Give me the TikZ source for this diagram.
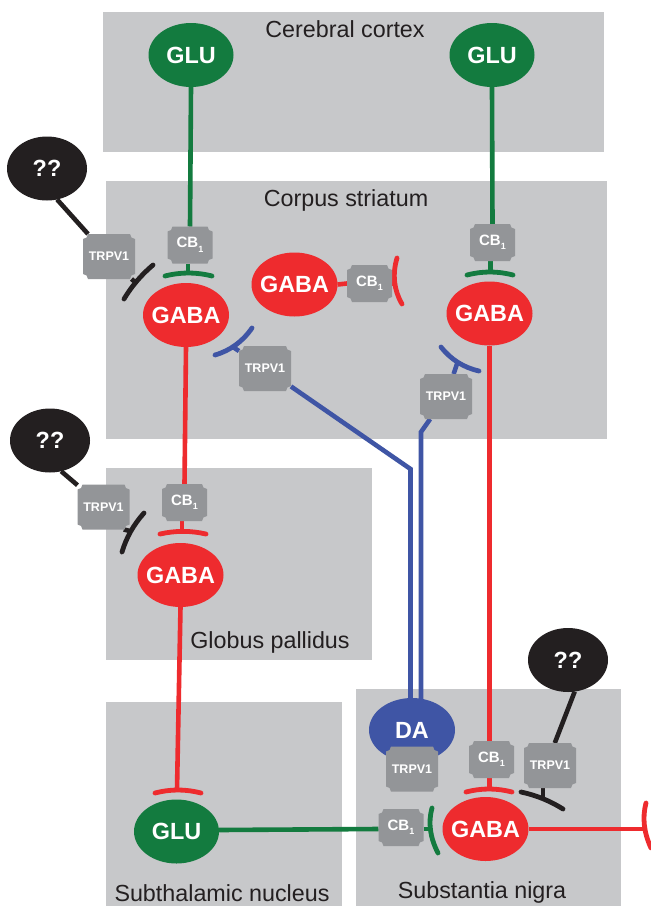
\documentclass[tikz,border=0pt]{standalone}
\usepackage{fontspec}
\setmainfont{Liberation Sans}
\usetikzlibrary{shapes.geometric,calc}
\definecolor{regiongray}{HTML}{C7C8CA}
\definecolor{boxgray}{HTML}{939598}
\definecolor{cgreen}{HTML}{137B3F}
\definecolor{cred}{HTML}{EE2B2E}
\definecolor{cblue}{HTML}{3F55A5}
\definecolor{cblack}{HTML}{231F20}
\pgfdeclarelayer{bg}\pgfdeclarelayer{conn}\pgfdeclarelayer{shape}
\pgfsetlayers{bg,conn,shape,main}
\tikzset{
  region/.style={fill=regiongray,draw=none},
  regionlabel/.style={font=\fontsize{23.3}{23.3}\selectfont,text=cblack,inner sep=0pt},
  cell/.style={ellipse,minimum width=86pt,minimum height=64pt,inner sep=-22pt,outer sep=0pt,
     text=white,font=\bfseries\fontsize{23.4}{23.4}\selectfont},
  unknown/.style={cell,minimum width=80pt,fill=cblack},
  recbox/.style={rectangle,inner sep=0pt,outer sep=0pt,text=white,font=\bfseries},
  axon/.style={line width=4.6pt},
  tbar/.style={line width=4.8pt,line cap=round},
}
\newcommand{\recshape}[1]{%
  \begin{pgfonlayer}{shape}
  \fill[boxgray] (#1.north west) ++(0,5)
    .. controls +(2.8,0) and +(0,2.8) .. ++(5,-5)
    -- ([xshift=-5pt]#1.north east)
    .. controls +(0,2.8) and +(-2.8,0) .. ++(5,5)
    -- ([yshift=5pt]#1.south east)
    .. controls +(-2.8,0) and +(0,-2.8) .. ++(-5,5)
    -- ([xshift=5pt]#1.south west)
    .. controls +(0,-2.8) and +(2.8,0) .. ++(-5,-5)
    -- cycle;
  \end{pgfonlayer}}
\newcommand{\trpv}[3]{%
  \node[recbox,minimum width=52pt,minimum height=45pt,font=\bfseries\fontsize{12.5}{12.5}\selectfont] (#1) at (#2,#3) {TRPV1};
  \recshape{#1}}
\newcommand{\cbone}[3]{%
  \node[recbox,minimum width=45pt,minimum height=37pt,font=\bfseries\fontsize{15}{15}\selectfont] (#1) at (#2,#3) {CB\raisebox{-0.3em}{\fontsize{9}{9}\selectfont 1}};
  \recshape{#1}}
% name, colour, left point, control, right point, point the stem reaches
\newcommand{\barend}[6]{%
  \coordinate (#1) at (#6);
  \begin{pgfonlayer}{conn}
  \draw[tbar,#2] (#3) .. controls ($(#3)!.3333!(#5) + (#4) - .5*(#3) - .5*(#5)$)
     and ($(#3)!.6667!(#5) + (#4) - .5*(#3) - .5*(#5)$) .. (#5);
  \end{pgfonlayer}}
\begin{document}
\begin{tikzpicture}[x=1pt,y=-1pt]
\useasboundingbox (0,0) rectangle (651,906);
\begin{pgfonlayer}{bg}
\fill[white] (0,0) rectangle (651,906);
\fill[region] (103,12) rectangle (604,152);
\fill[region] (106,181) rectangle (607,439);
\fill[region] (106,468) rectangle (372,660);
\fill[region] (106,702) rectangle (342,906);
\fill[region] (356,689) rectangle (621,906);
\end{pgfonlayer}

\node[regionlabel] (lcortex) at (345,29) {Cerebral cortex};
\node[regionlabel] (lstriatum) at (346,200) {Corpus striatum};
\node[regionlabel] (lpallidus) at (270,642) {Globus pallidus};
\node[regionlabel] (lstn) at (222,893) {Subthalamic nucleus};
\node[regionlabel] (lnigra) at (482,892) {Substantia nigra};

% cells
\node[cell,fill=cgreen,minimum width=85pt] (glua) at (191,55) {GLU};
\node[cell,fill=cgreen,minimum width=85pt] (glub) at (492,55) {GLU};
\node[cell,fill=cgreen,minimum width=85pt] (gluc) at (176.5,831.5) {GLU};
\node[cell,fill=cred] (gabaa) at (186,315) {GABA};
\node[cell,fill=cred] (gabam) at (294.5,284.5) {GABA};
\node[cell,fill=cred] (gabar) at (489.5,313.5) {GABA};
\node[cell,fill=cred] (gabag) at (180.5,575) {GABA};
\node[cell,fill=cred] (gaban) at (485.5,829) {GABA};
\begin{pgfonlayer}{shape}
\node[cell,fill=cblue] (da) at (412,730) {DA};
\end{pgfonlayer}
\node[unknown] (qa) at (47,168.5) {??};
\node[unknown] (qb) at (50,440.5) {??};
\node[unknown] (qc) at (568,660) {??};

% receptors
\trpv{ta}{109}{256.5}
\trpv{tb}{265}{368.5}
\trpv{tc}{446}{396.5}
\trpv{tg}{103.5}{507}
\trpv{td}{412}{769}
\trpv{tn}{550}{765.5}
\cbone{ca}{190}{245}
\cbone{cm}{369.5}{283.5}
\cbone{cr}{492.5}{242.5}
\cbone{cg}{184.5}{502.5}
\cbone{cn}{491.5}{759.5}
\cbone{cl}{401}{827.5}

% bar endings
\barend{ba}{cgreen}{165,276}{188.5,272}{212,276}{188,274}
\barend{bk}{cblack}{124,299}{136.5,280.5}{153,265}{135,282}
\barend{bb}{cblue}{215,355}{236.5,346}{252,328}{233,347}
\barend{bc}{cblue}{441,347}{457.2,363.5}{479,371}{457.5,362.5}
\barend{bm}{cred}{397,258}{393,282.3}{402,304}{395,284}
\barend{br}{cgreen}{467,275}{490,271}{513,275}{490.5,273}
\barend{bg}{cred}{160,534}{183,530.5}{206,534}{182,532}
\barend{bh}{cblack}{122,552}{130,531}{144,513}{130,531}
\barend{bs}{cred}{155,793}{178,789}{201,793}{177,790}
\barend{bn}{cred}{466,792}{489,788}{512,792}{489.5,789}
\barend{bo}{cblack}{521,792}{543,798}{563,809}{543,798}
\barend{bl}{cgreen}{432,808}{429,830}{438,853}{430,829}
\barend{bf}{cred}{646,803}{643,825}{651,848}{645,829}
\coordinate (ja) at (410.5,469);
\coordinate (jb) at (421,432);

\begin{pgfonlayer}{conn}
\draw[axon,cgreen] (glua.south) -- (ca.north);
\draw[axon,cgreen] (ba |- ca.south) -- (ba);
\draw[axon,cgreen] (glub.south) -- (cr.north);
\draw[axon,cgreen] (br |- cr.south) -- (br);
\draw[axon,cgreen] ([yshift=1.5pt]gluc.east) -- ([yshift=-1.5pt]cl.west);
\draw[axon,cgreen] (cl.east |- bl) -- (bl);
\draw[axon,cred] (gabaa.south) -- (cg.north);
\draw[axon,cred] (bg |- cg.south) -- (bg);
\draw[axon,cred] (gabag.south) -- (bs);
\draw[axon,cred] (gabam.east) -- (cm.west);
\draw[axon,cred] (cm.east) -- (bm);
\draw[axon,cred] (gabar.south) -- (gabar.south |- cn.north);
\draw[axon,cred] (bn |- cn.south) -- (bn);
\draw[axon,cred] (gaban.east) -- (bf);
\draw[axon,cblack] (qa.-72) -- (ta.133);
\draw[axon,cblack] (ta.-45) -- (bk);
\draw[axon,cblack] (qb.-70) -- (tg.140);
\draw[axon,cblack] (tg.-48) -- (bh);
\draw[axon,cblack] (qc.-78) -- (tn.78);
\draw[axon,cblack] (bo |- tn.south) -- (bo);
\draw[axon,cblue] (tb) -- (bb);
\draw[axon,cblue] (tb) -- (ja) -- (ja |- da.center);
\draw[axon,cblue] (tc) -- (bc);
\draw[axon,cblue] (tc) -- (jb) -- (jb |- da.center);
\end{pgfonlayer}
\end{tikzpicture}
\end{document}
